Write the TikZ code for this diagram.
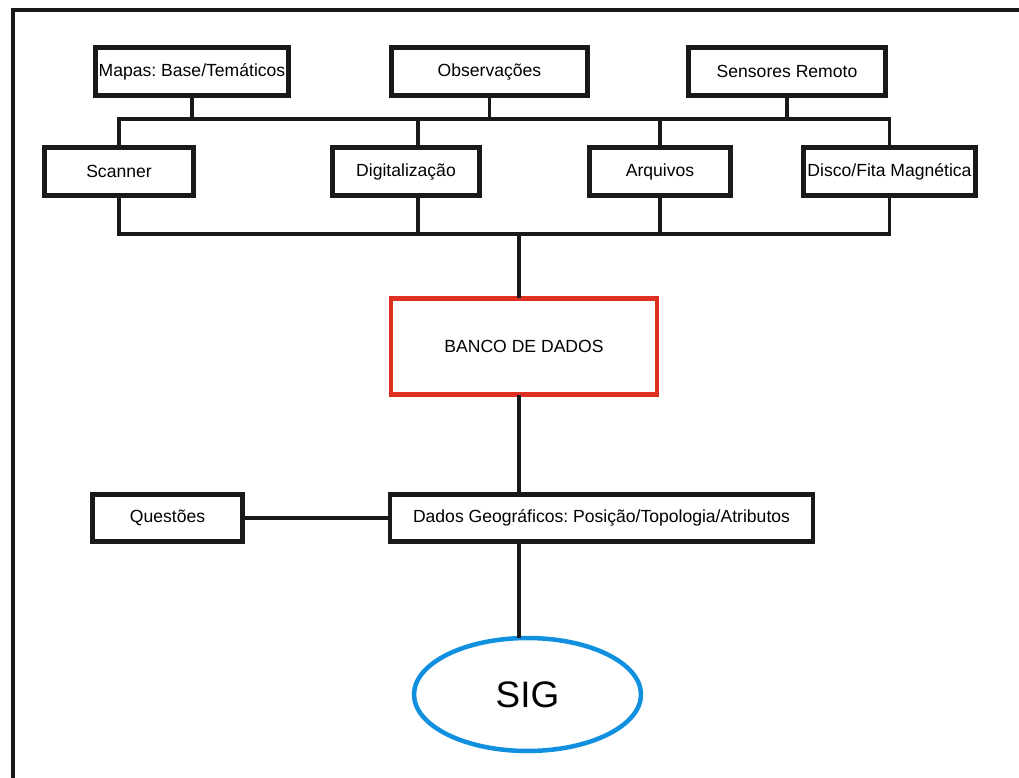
\documentclass[tikz,border=0pt]{standalone}
\usepackage{fontspec}
\setmainfont{Liberation Sans}
\frenchspacing
\usetikzlibrary{shapes.geometric}
\definecolor{vermelho}{RGB}{222,48,32}
\definecolor{azul}{RGB}{16,144,222}
\tikzset{
    caixa/.style={draw=black!90, line width=.09cm, minimum height=.96cm, inner sep=0pt, font=\fontsize{10}{12}\selectfont},
    ligacao/.style={draw=black!90, line width=.075cm, line cap=rect}
}
\begin{document}
\begin{tikzpicture}[x=.02cm, y=-.02cm]
\useasboundingbox (0,0) rectangle (1019,778);
\draw[ligacao] (13,778)--(13,10)--(1019,10);

\foreach \nome/\x/\w/\texto in {mapas/192/3.86/{Mapas: Base/Temáticos},obs/489.5/3.92/{Observações},sens/787/3.94/{Sensores Remoto}}
{
    \node[caixa, minimum width=\w cm] (\nome) at (\x,71.5) {\texto};
}
\foreach \nome/\x/\w/\texto in {scan/119/2.98/Scanner,digit/406/2.94/Digitalização,arq/660/2.82/Arquivos,disco/889.5/3.45/{Disco/Fita Magnética}}
{
    \node[caixa, minimum width=\w cm] (\nome) at (\x,171.5) {\texto};
}

\node[caixa, draw=vermelho, minimum width=5.32cm, minimum height=1.92cm] (banco) at (524,346.5) {BANCO DE DADOS};
\node[caixa, minimum width=3cm, minimum height=.94cm] (quest) at (167.5,518) {Questões};
\node[caixa, minimum width=8.46cm, minimum height=.94cm] (dados) at (601.5,518) {Dados Geográficos: Posição/Topologia/Atributos};
\node[ellipse, draw=azul, line width=.09cm, minimum width=4.54cm, minimum height=2.26cm, inner sep=0pt, font=\fontsize{21}{24}\selectfont] (sig) at (527.5,694.5) {SIG};

\coordinate (barracima) at (0,119);
\coordinate (barrabaixo) at (0,234);
\coordinate (eixo) at (519,0);
\coordinate (pdigit) at ([xshift=.24cm]digit.north);
\coordinate (pdigit2) at ([xshift=.24cm]digit.south);

\foreach \nome in {mapas,obs,sens}
{
    \draw[ligacao] (\nome.south)--(\nome.south |- barracima);
}
\foreach \nome in {scan,arq,disco}
{
    \draw[ligacao] (\nome.north)--(\nome.north |- barracima);
    \draw[ligacao] (\nome.south)--(\nome.south |- barrabaixo);
}
\draw[ligacao] (pdigit)--(pdigit |- barracima);
\draw[ligacao] (pdigit2)--(pdigit2 |- barrabaixo);
\draw[ligacao] (scan.north |- barracima)--(disco.north |- barracima);
\draw[ligacao] (scan.south |- barrabaixo)--(disco.south |- barrabaixo);

\draw[ligacao] (eixo |- barrabaixo)--(eixo |- banco.north);
\draw[ligacao] (eixo |- banco.south)--(eixo |- dados.north);
\draw[ligacao] (eixo |- dados.south)--(eixo |- sig.north);
\draw[ligacao] (quest.east)--(dados.west);
\end{tikzpicture}
\end{document}
